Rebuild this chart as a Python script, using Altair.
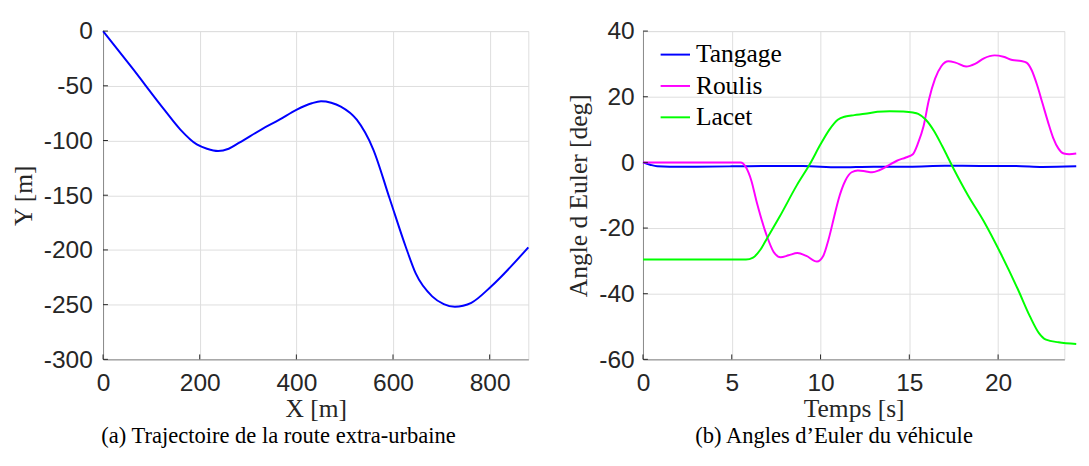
import altair as alt
import pandas as pd

# ---- Panel (a): trajectory ----
traj_x = [0, 59, 127, 160, 194, 215, 238, 260, 282, 329, 365, 400, 432, 451, 472, 492, 525,
          559, 593, 627, 647, 681, 705, 728, 745, 762, 803, 880]
traj_y = [0, -33, -72, -90, -103.6, -107.5, -109.6, -107.5, -102, -89.5, -81, -72, -66, -64.2, -65.5,
          -69, -81, -108, -153, -198, -221.5, -242.4, -249.5, -252, -251, -248.3, -233.4, -197.6]
traj_xticks = [0, 200, 400, 600, 800]
traj_yticks = [0, -50, -100, -150, -200, -250, -300]

# ---- Panel (b): Euler angles ----
series_names = ["Tangage", "Roulis", "Lacet"]
series_colors = ["#0000ff", "#ff00ff", "#00ff00"]
euler_xticks = [0, 5, 10, 15, 20]
euler_yticks = [-60, -40, -20, 0, 20, 40]

tangage_t = [0, 0.4, 0.8, 1.5, 3, 5, 7, 9, 11, 13, 15, 17, 19, 21, 22.5, 24.4]
tangage_v = [0, -0.7, -1.2, -1.3, -1.3, -1.2, -1.1, -1.1, -1.5, -1.3, -1.3, -1.0, -1.1, -1.1, -1.4, -1.2]

roulis_t = [0, 5.5, 5.8, 6.1, 6.4, 6.95, 7.35, 7.75, 8.2, 8.7, 9.2, 9.8, 10.15, 10.45, 10.77, 11.0,
            11.4, 11.75, 12.1, 12.5, 12.9, 13.3, 13.8, 14.3, 14.8, 15.2, 15.5, 15.8, 16.1, 16.45,
            16.8, 17.2, 17.6, 18.2, 18.7, 19.2, 19.8, 20.3, 20.8, 21.3, 21.6, 21.9, 22.2, 22.5,
            22.8, 23.1, 23.4, 23.7, 24.0, 24.4]
roulis_v = [0, 0, -1.5, -5.5, -12, -22, -27.2, -28.9, -28.3, -27.6, -28.5, -30.2, -28.5, -23.5,
            -16.5, -11.5, -5.5, -3.0, -2.5, -2.7, -3.0, -2.4, -1.0, 0.5, 1.5, 2.5, 6, 11, 19, 25.5,
            29.3, 30.8, 30.4, 29.2, 30, 31.7, 32.6, 32.2, 31.2, 30.9, 30.4, 28, 23.5, 18, 12.5,
            7.5, 4.2, 2.7, 2.5, 2.7]

lacet_t = [0, 5.8, 6.2, 6.6, 7.0, 7.7, 8.66, 9.4, 10.0, 10.5, 10.97, 11.4, 11.9, 12.5, 13.2, 13.9,
           14.6, 15.2, 15.5, 15.93, 16.4, 16.85, 17.5, 18.3, 19.2, 20.17, 21.1, 21.8, 22.3, 22.7,
           23.4, 24.4]
lacet_v = [-29.6, -29.6, -29, -26.7, -23, -16.5, -7, -0.5, 5.5, 10, 13, 14, 14.4, 14.8, 15.4, 15.6,
           15.5, 15.2, 14.8, 13, 9.5, 5, -2, -10, -18, -28, -38.5, -47, -52, -54, -54.8, -55.3]

traj_df = pd.DataFrame({"x": traj_x, "y": traj_y})
euler_df = pd.concat([
    pd.DataFrame({"x": tangage_t, "y": tangage_v, "s": "Tangage"}),
    pd.DataFrame({"x": roulis_t, "y": roulis_v, "s": "Roulis"}),
    pd.DataFrame({"x": lacet_t, "y": lacet_v, "s": "Lacet"}),
], ignore_index=True)

SANS = "Liberation Sans"
SERIF = "Liberation Serif"
DARK = "#262626"
MINUS_FIX = "replace(datum.label, '\u2212', '-')"
H = 335

def xenc(title, values, domain):
    return alt.X("x:Q", scale=alt.Scale(domain=domain, nice=False),
                 axis=alt.Axis(title=title, values=values, labelFont=SANS, labelFontSize=25, labelColor=DARK,
                               labelPadding=12, ticks=False, tickSize=0, labelFlush=False,
                               titleFont=SERIF, titleFontSize=26, titleFontWeight="normal", titleColor=DARK,
                               titlePadding=0, minExtent=37, maxExtent=37))

def yenc(title, values, domain, pad, ext):
    return alt.Y("y:Q", scale=alt.Scale(domain=domain, nice=False),
                 axis=alt.Axis(title=title, values=values, labelFont=SANS, labelFontSize=25, labelColor=DARK,
                               labelPadding=pad, ticks=False, tickSize=0, labelExpr=MINUS_FIX,
                               titleFont=SERIF, titleFontSize=26, titleFontWeight="normal", titleColor=DARK,
                               titlePadding=7, minExtent=ext, maxExtent=ext))

def inward_ticks(X, Y, xvals, yvals):
    ty = alt.Chart(pd.DataFrame({"y": yvals})).mark_rule(color=DARK, strokeWidth=1).encode(
        y=Y, x=alt.value(0), x2=alt.value(5))
    tx = alt.Chart(pd.DataFrame({"x": xvals})).mark_rule(color=DARK, strokeWidth=1).encode(
        x=X, y=alt.value(H), y2=alt.value(H - 5))
    return ty, tx

# Left panel
LX = xenc("X [m]", traj_xticks, [0, 880])
LY = yenc("Y [m]", traj_yticks, [-300, 0], 11, 61)
left_line = alt.Chart(traj_df).mark_line(color="#0000ff", strokeWidth=2, interpolate="monotone").encode(x=LX, y=LY)
lty, ltx = inward_ticks(LX, LY, traj_xticks, traj_yticks)
left = alt.layer(left_line, lty, ltx).properties(
    width=434, height=H,
    title=alt.TitleParams("(a) Trajectoire de la route extra-urbaine", orient="bottom", anchor="middle",
                          frame="group", dx=-38, offset=4, font=SERIF, fontSize=23,
                          fontWeight="normal", color="black"),
)

# Right panel
RX = xenc("Temps [s]", euler_xticks, [0, 23.73])
RY = yenc("Angle d Euler [deg]", euler_yticks, [-60, 40], 9, 46)
right_lines = alt.Chart(euler_df).mark_line(strokeWidth=2, interpolate="monotone").encode(
    x=RX, y=RY,
    color=alt.Color("s:N", scale=alt.Scale(domain=series_names, range=series_colors),
                    sort=series_names,
                    legend=alt.Legend(title=None, orient="none", legendX=17, legendY=8,
                                      direction="vertical", symbolType="stroke", symbolSize=900,
                                      symbolStrokeWidth=2, labelFont=SERIF, labelFontSize=26,
                                      labelColor="black", rowPadding=3, labelOffset=5, padding=0)),
)
rty, rtx = inward_ticks(RX, RY, euler_xticks, euler_yticks)
right = alt.layer(right_lines, rty, rtx).properties(
    width=430, height=H,
    title=alt.TitleParams("(b) Angles d\u2019Euler du v\u00e9hicule", orient="bottom", anchor="middle",
                          frame="group", dx=-20, offset=4, font=SERIF, fontSize=23,
                          fontWeight="normal", color="black"),
)

chart = alt.hconcat(left, right, spacing=32).resolve_scale(color="independent").resolve_legend(
    color="independent"
).properties(
    padding={"left": 2, "top": 6, "right": 0, "bottom": 0}
).configure_view(stroke=None).configure_axis(
    domainColor=DARK, domainWidth=1.2, gridColor="#e0e0e0", gridWidth=1
).configure(background="white")

chart.save("out.html", embed_options={"renderer": "svg", "actions": False})
